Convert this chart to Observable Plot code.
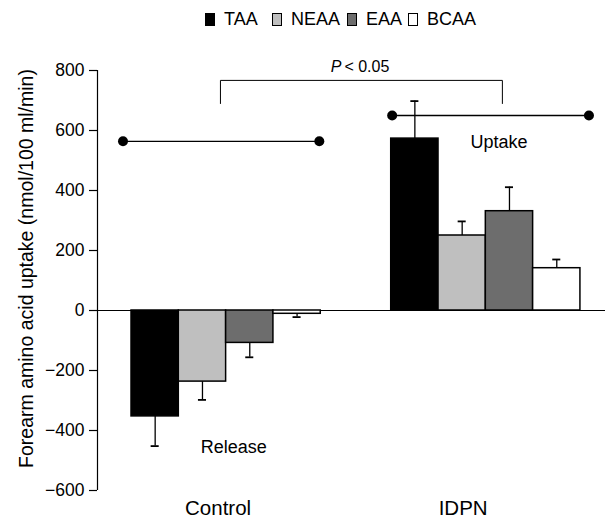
<!DOCTYPE html>
<html>
<head>
<meta charset="utf-8">
<script src="https://cdn.jsdelivr.net/npm/d3@7"></script>
<script src="https://cdn.jsdelivr.net/npm/@observablehq/plot@0.6"></script>
<style>
  body { margin: 0; background: #fff; font-family: "Liberation Sans", Arial, Helvetica, sans-serif; }
  #legend { height: 36px; width: 616px; position: relative; }
  .item { position: absolute; top: 9px; display: flex; align-items: center; font-size: 18px; color: #000; }
  .sw { width: 8px; height: 11px; border: 1px solid #000; margin-right: 9px; box-sizing: content-box; }
</style>
</head>
<body>
<div id="legend"></div>
<div id="chart"></div>
<script>
// ---- data ----
const groups = ["Control", "IDPN"];
const series = ["TAA", "NEAA", "EAA", "BCAA"];
const controlMeans = [-353, -237, -108, -11];
const controlErrors = [99, 61, 48, 11];
const idpnMeans = [573, 250, 331, 141];
const idpnErrors = [125, 47, 80, 29];
const groupOverallMeans = [564, 650];
const yTicks = [-600, -400, -200, 0, 200, 400, 600, 800];
const pLabelItalic = "P";
const pLabelRest = "< 0.05";
const bracketLevels = [690, 767];
const annotationTexts = ["Release", "Uptake"];
const annotationValues = [-457, 560];
const yLabel = "Forearm amino acid uptake (nmol/100 ml/min)";

// ---- style / layout ----
const colors = ["#000000", "#bfbfbf", "#6d6d6d", "#ffffff"];
const groupStep = 5.49;            // group offset in bar-width units
const meanLineSpan = [[-0.18, 3.97], [0.02, 4.18]];
const groupLabelOffset = [1.83, 1.52];
const bracketX = [1.88, 7.84];
const annotationX = [2.16, 7.77];
const legendLeft = [205, 272, 347, 408];

// build table
const bars = [];
groups.forEach((g, gi) => {
  const means = gi === 0 ? controlMeans : idpnMeans;
  const errs = gi === 0 ? controlErrors : idpnErrors;
  series.forEach((s, si) => {
    const x1 = gi * groupStep + si;
    const v = means[si];
    const e = errs[si];
    bars.push({group: g, series: s, x1, x2: x1 + 1, xc: x1 + 0.5, value: v, end: v + Math.sign(v) * e, color: colors[si]});
  });
});
const meanLines = groups.map((g, gi) => ({
  group: g, y: groupOverallMeans[gi],
  x1: gi * groupStep + meanLineSpan[gi][0], x2: gi * groupStep + meanLineSpan[gi][1]
}));
const meanDots = meanLines.flatMap(d => [{x: d.x1, y: d.y}, {x: d.x2, y: d.y}]);
const bracket = [
  {x: bracketX[0], y: bracketLevels[0]}, {x: bracketX[0], y: bracketLevels[1]},
  {x: bracketX[1], y: bracketLevels[1]}, {x: bracketX[1], y: bracketLevels[0]}
];
const bracketMid = (bracketX[0] + bracketX[1]) / 2;
const groupLabels = groups.map((g, gi) => ({label: g, x: gi * groupStep + groupLabelOffset[gi]}));
const annotations = annotationTexts.map((t, i) => ({text: t, x: annotationX[i], y: annotationValues[i]}));

const xDomain = [-0.719, 10.02];
const font = "Liberation Sans, Arial, Helvetica, sans-serif";

// legend
const legend = document.getElementById("legend");
series.forEach((s, i) => {
  const it = document.createElement("div");
  it.className = "item";
  it.style.left = legendLeft[i] + "px";
  const sw = document.createElement("span");
  sw.className = "sw";
  sw.style.background = colors[i];
  const tx = document.createElement("span");
  tx.textContent = s;
  it.appendChild(sw); it.appendChild(tx);
  legend.appendChild(it);
});

const chart = Plot.plot({
  width: 616,
  height: 482,
  marginLeft: 97,
  marginRight: 11,
  marginTop: 34,
  marginBottom: 28,
  style: {fontFamily: font, color: "#000", background: "#fff"},
  x: {type: "linear", domain: xDomain, axis: null},
  y: {domain: [-600, 800], axis: null},
  marks: [
    Plot.axisY({ticks: yTicks, tickSize: 8, tickPadding: 5, fontSize: 17.5, label: null, stroke: "#000", strokeWidth: 1.2}),
    Plot.ruleX([xDomain[0]], {y1: -600, y2: 800, stroke: "#000", strokeWidth: 1.2}),
    Plot.ruleY([0], {stroke: "#000", strokeWidth: 1.2}),
    // error bars
    Plot.ruleX(bars, {x: "xc", y1: "value", y2: "end", stroke: "#000", strokeWidth: 1.3}),
    Plot.ruleY(bars, {y: "end", x1: d => d.xc - 0.085, x2: d => d.xc + 0.085, stroke: "#000", strokeWidth: 1.8}),
    Plot.rect(bars, {x1: "x1", x2: "x2", y1: 0, y2: "value", fill: "color", stroke: "#000", strokeWidth: 1.5, inset: 0}),
    // mean lines
    Plot.ruleY(meanLines, {y: "y", x1: "x1", x2: "x2", stroke: "#000", strokeWidth: 1.3}),
    Plot.dot(meanDots, {x: "x", y: "y", r: 5, fill: "#000", stroke: "none"}),
    // bracket
    Plot.line(bracket, {x: "x", y: "y", stroke: "#000", strokeWidth: 1}),
    Plot.text([pLabelItalic], {x: bracketMid, y: bracketLevels[1], dy: -14, dx: -20, text: d => d, textAnchor: "end", fontStyle: "italic", fontSize: 16}),
    Plot.text([pLabelRest], {x: bracketMid, y: bracketLevels[1], dy: -14, dx: -17, text: d => d, textAnchor: "start", fontSize: 16}),
    // annotations
    Plot.text(annotations, {x: "x", y: "y", text: "text", fontSize: 18}),
    // group labels
    Plot.text(groupLabels, {x: "x", y: -600, text: "label", dy: 18, fontSize: 20.5}),
    // y label
    Plot.text([yLabel], {frameAnchor: "left", textAnchor: "middle", rotate: -90, dx: -71, dy: -12, fontSize: 19.5, text: d => d})
  ]
});
document.getElementById("chart").appendChild(chart);
</script>
</body>
</html>
